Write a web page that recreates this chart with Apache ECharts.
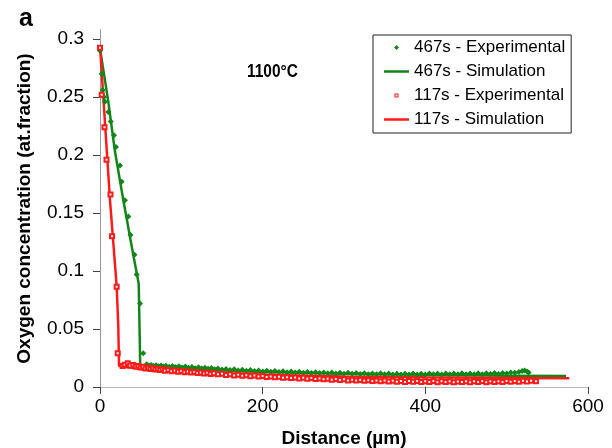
<!DOCTYPE html>
<html>
<head>
<meta charset="utf-8">
<script src="https://cdn.jsdelivr.net/npm/echarts@6/dist/echarts.min.js"></script>
<style>
  html, body { margin: 0; padding: 0; background: #fff; }
  #chart { width: 612px; height: 448px; }
</style>
</head>
<body>
<div id="chart"></div>
<script>
// simulation curves, [distance um, at.fraction]
const sim467 = [[0, 0.292], [10.2, 0.246], [18.4, 0.203], [28.7, 0.161], [38, 0.125], [47.6, 0.089],
  [49.2, 0.029], [49.4, 0.018], [100, 0.0155], [200, 0.013], [300, 0.0115], [400, 0.0105], [500, 0.0098], [573, 0.0094]]
const sim117 = [[0, 0.294], [12.3, 0.161], [20.5, 0.087], [22.5, 0.052], [23.4, 0.018], [50, 0.0155],
  [100, 0.013], [200, 0.0105], [300, 0.009], [400, 0.0083], [500, 0.0078], [577, 0.0075]]

// experimental points, distance and concentration
const exp467X = [0, 2.1, 3.3, 4.9, 6.1, 10.2, 13.2, 17.2, 19.7, 24.6, 26.7, 30.7, 34.8, 37.5, 42.4, 45.1, 49.2, 53.2,
  57.4, 60, 63, 66, 69, 72, 75, 78, 81, 85, 89, 93, 97, 101, 105, 109, 113, 117, 121, 125, 129, 133, 137, 141, 145,
  150, 155, 160, 165, 170, 175, 180, 185, 190, 195, 200, 205, 210, 215, 220, 225, 230, 235, 240, 245, 250, 255, 260,
  265, 270, 275, 280, 285, 290, 295, 300, 305, 310, 315, 320, 325, 330, 335, 340, 345, 350, 355, 360, 365, 370, 375,
  380, 385, 390, 395, 400, 405, 410, 415, 420, 425, 430, 435, 440, 445, 450, 455, 460, 465, 470, 475, 480, 485, 490,
  495, 500, 505, 510, 515, 519, 522, 525, 527]
const exp467Y = [0.290, 0.270, 0.256, 0.250, 0.246, 0.237, 0.229, 0.217, 0.207, 0.191, 0.177, 0.161, 0.147, 0.131,
  0.114, 0.097, 0.072, 0.029,
  0.0196, 0.0185, 0.0190, 0.0180, 0.0188, 0.0178, 0.0186, 0.0176, 0.0184, 0.0174, 0.0182, 0.0172, 0.0178, 0.0168,
  0.0176, 0.0166, 0.0172, 0.0162, 0.0170, 0.0160, 0.0166, 0.0157, 0.0163, 0.0153, 0.0160, 0.0150, 0.0156, 0.0146,
  0.0152, 0.0143, 0.0149, 0.0140, 0.0146, 0.0137, 0.0143, 0.0134, 0.0140, 0.0132, 0.0138, 0.0129, 0.0136, 0.0127,
  0.0133, 0.0125, 0.0131, 0.0123, 0.0129, 0.0121, 0.0128, 0.0120, 0.0126, 0.0118, 0.0125, 0.0117, 0.0123, 0.0115,
  0.0122, 0.0114, 0.0120, 0.0112, 0.0119, 0.0111, 0.0117, 0.0110, 0.0118, 0.0109, 0.0116, 0.0108, 0.0115, 0.0107,
  0.0114, 0.0108, 0.0116, 0.0107, 0.0115, 0.0108, 0.0116, 0.0109, 0.0117, 0.0108, 0.0116, 0.0109, 0.0117, 0.0110,
  0.0118, 0.0109, 0.0117, 0.0110, 0.0118, 0.0111, 0.0119, 0.0112, 0.0120, 0.0113, 0.0121, 0.0116, 0.0124, 0.0122,
  0.0130, 0.0138, 0.0142, 0.0133, 0.0124]

const exp117X = [0, 2.1, 5.5, 8.0, 12.9, 14.8, 20.5, 21.8,
  27.9, 30.5, 34.1, 37, 40.9, 44, 47, 50, 53, 56, 59, 62, 65, 68, 71, 74, 77, 80, 84, 88, 92, 96, 100, 104, 108, 112,
  116, 120, 124, 128, 132, 136, 140, 145, 150, 155, 160, 165, 170, 175, 180, 185, 190, 195, 200, 205, 210, 215, 220,
  225, 230, 235, 240, 245, 250, 255, 260, 265, 270, 275, 280, 285, 290, 295, 300, 305, 310, 315, 320, 325, 330, 335,
  340, 345, 350, 355, 360, 365, 370, 375, 380, 385, 390, 395, 400, 405, 410, 415, 420, 425, 430, 435, 440, 445, 450,
  455, 460, 465, 470, 475, 480, 485, 490, 495, 500, 505, 510, 515, 520, 525, 530, 536]
const exp117Y = [0.2925, 0.252, 0.224, 0.196, 0.166, 0.130, 0.0865, 0.029,
  0.0180, 0.0192, 0.0204, 0.0186, 0.0190, 0.0176, 0.0182, 0.0168, 0.0174, 0.0160, 0.0166, 0.0155, 0.0162, 0.0150,
  0.0156, 0.0146, 0.0152, 0.0140, 0.0146, 0.0136, 0.0142, 0.0131, 0.0137, 0.0128, 0.0134, 0.0124, 0.0129, 0.0121,
  0.0126, 0.0116, 0.0122, 0.0113, 0.0118, 0.0110, 0.0115, 0.0104, 0.0110, 0.0100, 0.0106, 0.0097, 0.0102, 0.0093,
  0.0099, 0.0090, 0.0095, 0.0086, 0.0091, 0.0083, 0.0088, 0.0080, 0.0085, 0.0077, 0.0082, 0.0074, 0.0079, 0.0071,
  0.0077, 0.0068, 0.0074, 0.0066, 0.0071, 0.0062, 0.0068, 0.0060, 0.0066, 0.0057, 0.0063, 0.0055, 0.0061, 0.0053,
  0.0059, 0.0051, 0.0057, 0.0049, 0.0055, 0.0047, 0.0053, 0.0046, 0.0052, 0.0044, 0.0051, 0.0045, 0.0052, 0.0043,
  0.0050, 0.0044, 0.0051, 0.0042, 0.0049, 0.0043, 0.0050, 0.0041, 0.0048, 0.0043, 0.0050, 0.0042, 0.0049, 0.0044,
  0.0051, 0.0042, 0.0049, 0.0043, 0.0050, 0.0044, 0.0051, 0.0045, 0.0052, 0.0046, 0.0053, 0.0047, 0.0054, 0.0050]

const xTicks = [0, 200, 400, 600]
const yTicks = [0, 0.05, 0.1, 0.15, 0.2, 0.25, 0.3]

const names = ['467s - Experimental', '467s - Simulation', '117s - Experimental', '117s - Simulation']
const green = '#13861a'
const red = '#ff1a1a'
const font = 'Arial, "Liberation Sans", sans-serif'

// legend icons drawn in a 25x6 box (the two leading moves pin the box size)
const box = 'M0,0 M25,6 '
const dotIcon = 'path://' + box + 'M12.5,0.5 L15,3 L12.5,5.5 L10,3 Z'
const squareIcon = 'path://' + box + 'M10.5,1 L14.5,1 L14.5,5 L10.5,5 Z M11.5,2 L11.5,4 L13.5,4 L13.5,2 Z'
const lineIcon = 'path://' + box + 'M0,1.75 L25,1.75 L25,4.25 L0,4.25 Z'

function zip(xs, ys) {
  return xs.map((x, i) => [x, ys[i]])
}

const chart = echarts.init(document.getElementById('chart'))
chart.setOption({
  animation: false,
  backgroundColor: '#fff',
  grid: { left: 100, right: 24, top: 30, bottom: 61, outerBoundsMode: 'none' },
  title: [
    { text: 'a', left: 14, top: 2, textStyle: { fontFamily: font, fontSize: 25, fontWeight: 'bold', color: '#000' } }
  ],
  graphic: [
    {
      type: 'text', left: 247, top: 63, scaleX: 0.86,
      style: { text: '1100°C', font: 'bold 18px "Liberation Sans Narrow", Arial, sans-serif', fill: '#000' }
    }
  ],
  legend: {
    data: [
      { name: names[0], icon: dotIcon },
      { name: names[1], icon: lineIcon },
      { name: names[2], icon: squareIcon },
      { name: names[3], icon: lineIcon }
    ],
    orient: 'vertical',
    left: 373,
    top: 35,
    itemWidth: 25,
    itemHeight: 6,
    itemGap: 5,
    itemStyle: { borderWidth: 0 },
    padding: [3, 6, 4, 11],
    borderColor: '#222',
    borderWidth: 1,
    backgroundColor: '#fff',
    textStyle: { fontFamily: font, fontSize: 17, color: '#000', lineHeight: 19 }
  },
  xAxis: [
    {
      type: 'value', min: 0, max: 600, interval: 200,
      name: 'Distance (µm)', nameLocation: 'middle', nameGap: 42,
      nameTextStyle: { fontFamily: font, fontSize: 19, fontWeight: 'bold', color: '#000' },
      axisLine: { lineStyle: { color: '#777', width: 1 } },
      axisTick: { length: 7, lineStyle: { color: '#444' }, customValues: xTicks },
      axisLabel: { fontFamily: font, fontSize: 19, color: '#000', margin: 10, customValues: xTicks },
      splitLine: { show: false }
    },
    {
      // top edge of the frame
      type: 'value', position: 'top', min: 0, max: 600,
      axisLine: { show: true, lineStyle: { color: '#bbb' } },
      axisTick: { show: false }, axisLabel: { show: false }, splitLine: { show: false }
    }
  ],
  yAxis: [
    {
      type: 'value', min: 0, max: 0.3078,
      name: 'Oxygen concentration (at.fraction)', nameLocation: 'middle', nameGap: 66,
      nameTextStyle: { fontFamily: font, fontSize: 19, fontWeight: 'bold', color: '#000' },
      axisLine: { show: true, lineStyle: { color: '#777', width: 1 } },
      axisTick: { show: true, length: 7, lineStyle: { color: '#444' }, customValues: yTicks },
      axisLabel: { fontFamily: font, fontSize: 19, color: '#000', margin: 16, customValues: yTicks },
      splitLine: { show: false }
    },
    {
      // right edge of the frame
      type: 'value', position: 'right', min: 0, max: 0.3078,
      axisLine: { show: true, lineStyle: { color: '#999' } },
      axisTick: { show: false }, axisLabel: { show: false }, splitLine: { show: false }
    }
  ],
  series: [
    {
      name: names[1], type: 'line', data: sim467, symbol: 'none',
      lineStyle: { color: green, width: 2.5 }, itemStyle: { color: green }, z: 2
    },
    {
      name: names[3], type: 'line', data: sim117, symbol: 'none',
      lineStyle: { color: red, width: 2.5 }, itemStyle: { color: red }, z: 2
    },
    {
      name: names[0], type: 'scatter', data: zip(exp467X, exp467Y),
      symbol: 'diamond', symbolSize: 6, itemStyle: { color: green, opacity: 1 }, z: 3
    },
    {
      name: names[2], type: 'scatter', data: zip(exp117X, exp117Y),
      symbol: 'emptyRect', symbolSize: 4,
      itemStyle: { color: red, borderColor: red, borderWidth: 1, opacity: 1 }, z: 4
    }
  ]
})
</script>
</body>
</html>
